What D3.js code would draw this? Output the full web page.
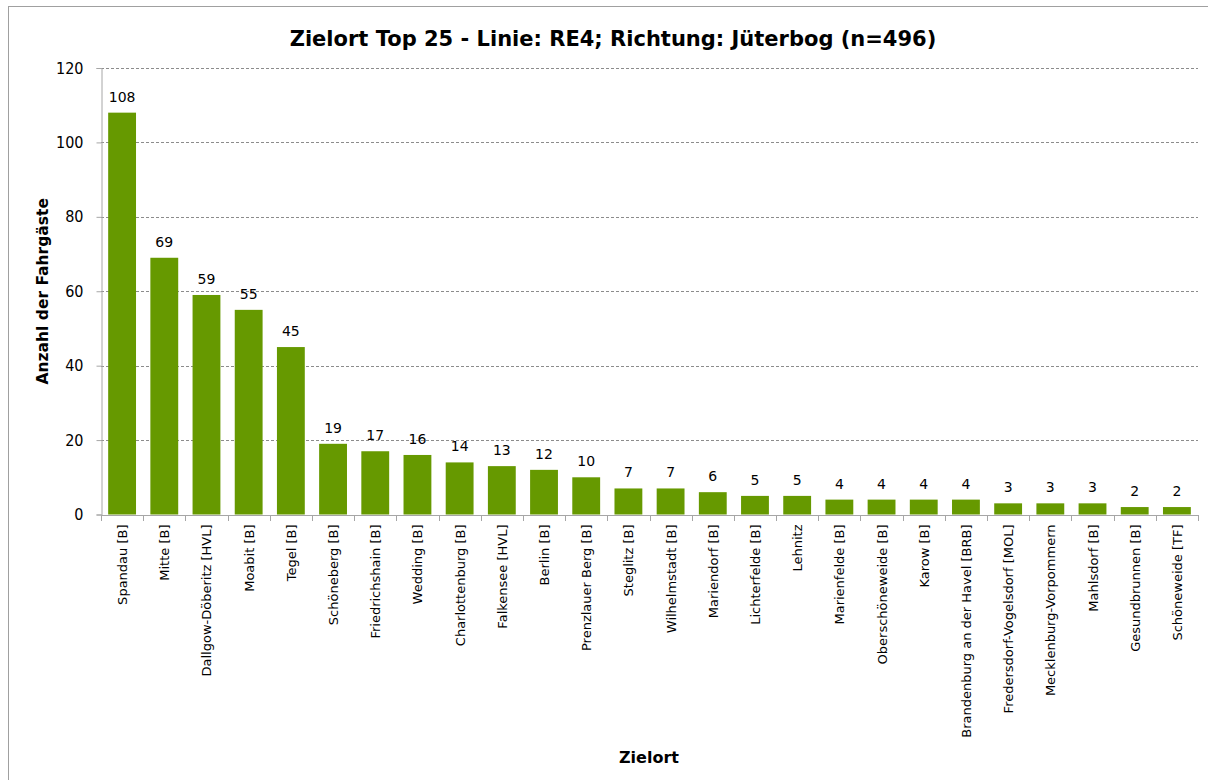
<!DOCTYPE html>
<html>
<head>
<meta charset="utf-8">
<script src="https://cdn.jsdelivr.net/npm/d3@7"></script>
<style>
  html, body { margin: 0; padding: 0; background: #fff; }
  svg { display: block; }
  .f { font-family: "DejaVu Sans", sans-serif; }
  .fc { font-family: "DejaVu Sans Condensed", "DejaVu Sans", sans-serif; }
</style>
</head>
<body>
<svg id="chart" width="1208" height="780"></svg>
<script>
// Destinations, ordered by passenger count
const zielorte = [
  "Spandau [B]", "Mitte [B]", "Dallgow-Döberitz [HVL]", "Moabit [B]", "Tegel [B]",
  "Schöneberg [B]", "Friedrichshain [B]", "Wedding [B]", "Charlottenburg [B]", "Falkensee [HVL]",
  "Berlin [B]", "Prenzlauer Berg [B]", "Steglitz [B]", "Wilhelmstadt [B]", "Mariendorf [B]",
  "Lichterfelde [B]", "Lehnitz", "Marienfelde [B]", "Oberschöneweide [B]", "Karow [B]",
  "Brandenburg an der Havel [BRB]", "Fredersdorf-Vogelsdorf [MOL]", "Mecklenburg-Vorpommern",
  "Mahlsdorf [B]", "Gesundbrunnen [B]", "Schöneweide [TF]"
];
const fahrgaeste = [108, 69, 59, 55, 45, 19, 17, 16, 14, 13, 12, 10, 7, 7, 6, 5, 5, 4, 4, 4, 4, 3, 3, 3, 2, 2];
const yTicks = [0, 20, 40, 60, 80, 100, 120];

const titel = "Zielort Top 25 - Linie: RE4; Richtung: Jüterbog (n=496)";
const yTitel = "Anzahl der Fahrgäste";
const xTitel = "Zielort";

const svg = d3.select("#chart");
const W = 1208, H = 780;
const plot = { left: 101, right: 1198, top: 68, bottom: 514.5 };

// chart frame (right and bottom edges run past the page)
svg.append("rect")
  .attr("x", 8.5).attr("y", 6.5)
  .attr("width", W).attr("height", H)
  .attr("fill", "#fff").attr("stroke", "#a0a0a0").attr("stroke-width", 1);

const x = d3.scaleBand()
  .domain(zielorte)
  .range([plot.left, plot.right])
  .paddingInner(0.34)
  .paddingOuter(0.17);

const y = d3.scaleLinear()
  .domain([0, 120])
  .range([plot.bottom, plot.top]);

// horizontal dashed grid
svg.append("g")
  .selectAll("line")
  .data(yTicks.filter(d => d > 0))
  .join("line")
  .attr("x1", plot.left).attr("x2", plot.right)
  .attr("y1", d => Math.round(y(d)) + 0.5).attr("y2", d => Math.round(y(d)) + 0.5)
  .attr("stroke", "#8c8c8c")
  .attr("stroke-dasharray", "3,2");

// bars
svg.append("g")
  .selectAll("rect")
  .data(zielorte)
  .join("rect")
  .attr("x", d => x(d))
  .attr("width", x.bandwidth())
  .attr("y", (d, i) => y(fahrgaeste[i]))
  .attr("height", (d, i) => y(0) - y(fahrgaeste[i]))
  .attr("fill", "#669900");

// value labels
svg.append("g")
  .selectAll("text")
  .data(zielorte)
  .join("text")
  .attr("class", "f")
  .attr("x", d => x(d) + x.bandwidth() / 2)
  .attr("y", (d, i) => y(fahrgaeste[i]) - 11)
  .attr("text-anchor", "middle")
  .attr("font-size", 14)
  .attr("fill", "#000")
  .text((d, i) => fahrgaeste[i]);

// y axis
const yAxis = d3.axisLeft(y).tickValues(yTicks).tickSize(5).tickPadding(13);
const gy = svg.append("g")
  .attr("transform", `translate(${plot.left + 0.5},0)`)
  .call(yAxis);
gy.select(".domain").attr("stroke", "#a6a6a6");
gy.selectAll(".tick line").attr("stroke", "#a6a6a6");
gy.selectAll(".tick text")
  .attr("class", "fc")
  .attr("font-size", 16)
  .attr("fill", "#000");

// x axis: ticks at band boundaries, rotated labels
const n = zielorte.length;
const boundaries = d3.range(n + 1).map(i => plot.left + i * (plot.right - plot.left) / n);
const gx = svg.append("g");
gx.append("line")
  .attr("x1", plot.left).attr("x2", plot.right)
  .attr("y1", Math.round(y(0)) + 0.5).attr("y2", Math.round(y(0)) + 0.5)
  .attr("stroke", "#a6a6a6");
gx.selectAll("line.tk")
  .data(boundaries)
  .join("line")
  .attr("class", "tk")
  .attr("x1", d => Math.round(d) + 0.5).attr("x2", d => Math.round(d) + 0.5)
  .attr("y1", Math.round(y(0))).attr("y2", Math.round(y(0)) + 6)
  .attr("stroke", "#a6a6a6");
gx.selectAll("text")
  .data(zielorte)
  .join("text")
  .attr("class", "f")
  .attr("transform", d => `translate(${x(d) + x.bandwidth() / 2 + 5},${plot.bottom + 10}) rotate(-90)`)
  .attr("text-anchor", "end")
  .attr("font-size", 13)
  .attr("fill", "#000")
  .text(d => d);

// titles
svg.append("text")
  .attr("class", "f")
  .attr("x", 613).attr("y", 46)
  .attr("text-anchor", "middle")
  .attr("font-size", 21)
  .attr("font-weight", "bold")
  .text(titel);

svg.append("text")
  .attr("class", "f")
  .attr("transform", `translate(48,${(plot.top + plot.bottom) / 2}) rotate(-90)`)
  .attr("text-anchor", "middle")
  .attr("font-size", 15.5)
  .attr("font-weight", "bold")
  .text(yTitel);

svg.append("text")
  .attr("class", "f")
  .attr("x", 649).attr("y", 763)
  .attr("text-anchor", "middle")
  .attr("font-size", 16)
  .attr("font-weight", "bold")
  .text(xTitel);
</script>
</body>
</html>
